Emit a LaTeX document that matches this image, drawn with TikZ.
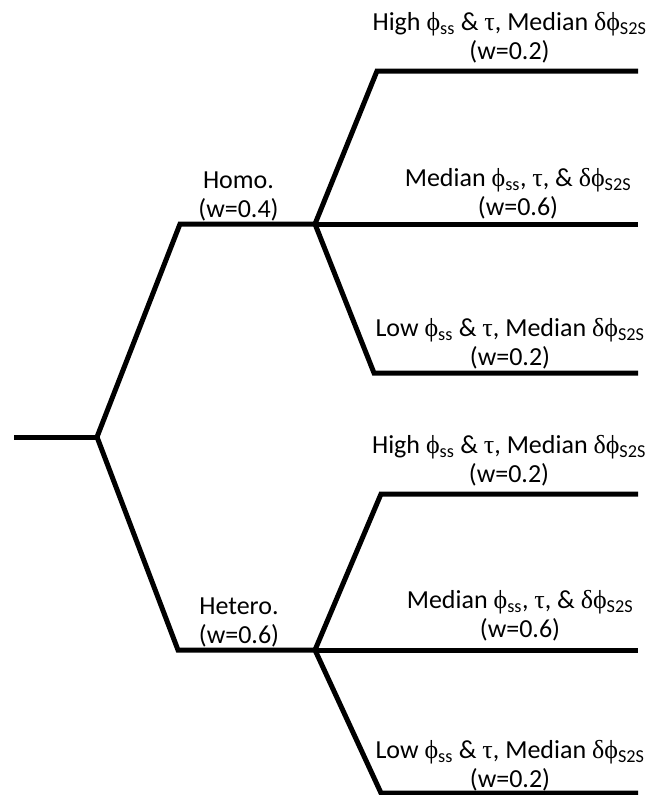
\documentclass[tikz,border=0pt]{standalone}
\usepackage{fontspec}
\setmainfont{Carlito}
\newfontfamily\grk{Liberation Serif}
\usetikzlibrary{positioning}
\newcommand{\gphi}{{\grk ϕ}}
\newcommand{\gtau}{{\grk τ}}
\newcommand{\gdelta}{{\grk δ}}
\newcommand{\lo}[1]{\textsubscript{#1}}

\begin{document}
\begin{tikzpicture}[x=1pt,y=-1pt,
branch/.style={line width=5pt},
tag/.style={align=center,inner sep=0pt,font=\fontsize{26}{29}\selectfont}]
\useasboundingbox (0,0) rectangle (659,795);
% tree skeleton
\coordinate (root) at (14,437);
\coordinate (fork) at (97,437);
\coordinate (homoA) at (180,224);
\coordinate (homoB) at (315,224);
\coordinate (hetA) at (178,650);
\coordinate (hetB) at (315,650);
\coordinate (hhA) at (377,71);   \coordinate (hhB) at (638,71);
\coordinate (hmB) at (638,224);
\coordinate (hlA) at (374,373);  \coordinate (hlB) at (638,373);
\coordinate (thA) at (381,494);  \coordinate (thB) at (638,494);
\coordinate (tmB) at (638,650);
\coordinate (tlA) at (381,793);  \coordinate (tlB) at (638,793);
\draw[branch] (root)--(fork);
\draw[branch] (fork)--(homoA)--(homoB);
\draw[branch] (fork)--(hetA)--(hetB);
\foreach \s/\a/\b in {homoB/hhA/hhB,homoB/hlA/hlB,hetB/thA/thB,hetB/tlA/tlB}
  \draw[branch] (\s)--(\a)--(\b);
\draw[branch] (homoB)--(hmB);
\draw[branch] (hetB)--(tmB);
% labels
\node[tag] (homo) at (238.5,196) {Homo.\\(w=0.4)};
\node[tag] (hetero) at (239,622) {Hetero.\\(w=0.6)};
\node[tag] (hh) at (509.5,37.5) {High \gphi\lo{ss} \& \gtau, Median \gdelta\gphi\lo{S2S}\\(w=0.2)};
\node[tag] (hm) at (518,193.5) {Median \gphi\lo{ss}, \gtau, \& \gdelta\gphi\lo{S2S}\\(w=0.6)};
\node[tag] (hl) at (510,343.5) {Low \gphi\lo{ss} \& \gtau, Median \gdelta\gphi\lo{S2S}\\(w=0.2)};
\node[tag] (th) at (509,460.5) {High \gphi\lo{ss} \& \gtau, Median \gdelta\gphi\lo{S2S}\\(w=0.2)};
\node[tag] (tm) at (520,615.5) {Median \gphi\lo{ss}, \gtau, \& \gdelta\gphi\lo{S2S}\\(w=0.6)};
\node[tag] (tl) at (510,765.5) {Low \gphi\lo{ss} \& \gtau, Median \gdelta\gphi\lo{S2S}\\(w=0.2)};
\end{tikzpicture}
\end{document}
